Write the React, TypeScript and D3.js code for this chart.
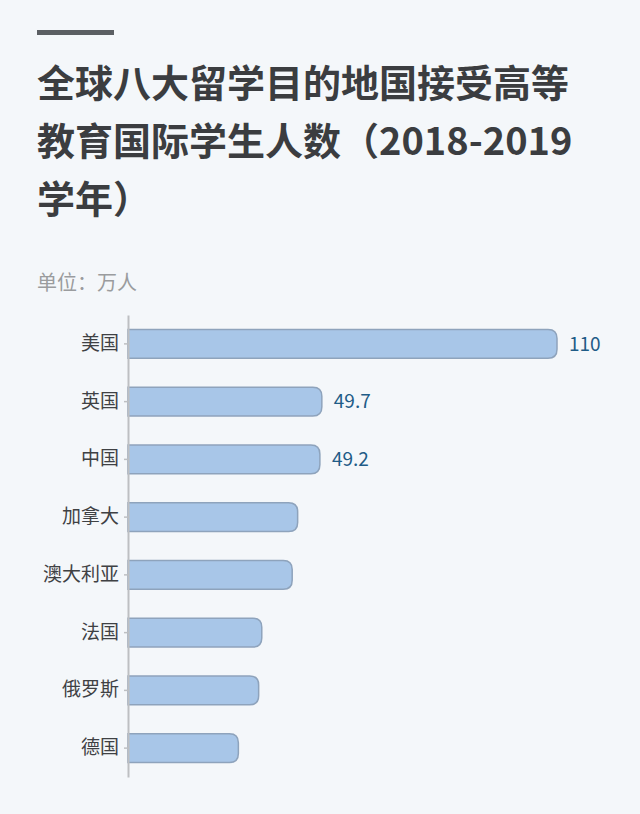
import React, { useEffect, useRef } from "react";
import * as d3 from "d3";

const titleLines = ["全球八大留学目的地国接受高等", "教育国际学生人数（2018-2019", "学年）"];
const unitLabel = "单位：万人";
const countries = ["美国", "英国", "中国", "加拿大", "澳大利亚", "法国", "俄罗斯", "德国"];
const students = [110, 49.7, 49.2, 43.5, 42.1, 34.3, 33.5, 28.3];
// only the top three bars carry a value label
const labelled = [true, true, true, false, false, false, false, false];

const width = 640;
const height = 814;
const margins = { top: 315, right: 83, bottom: 37, left: 128 };
const fontFamily = "'Noto Sans CJK SC', 'Noto Sans', sans-serif";

const App: React.FC = () => {
  const svgRef = useRef<SVGSVGElement | null>(null);

  useEffect(() => {
    if (!svgRef.current) return;
    const svg = d3.select(svgRef.current);
    svg.selectAll("*").remove();

    svg.append("rect").attr("width", width).attr("height", height).attr("fill", "#f4f7fa");

    // decorative rule above the title
    svg.append("rect").attr("x", 37).attr("y", 30).attr("width", 77).attr("height", 5).attr("fill", "#5b5f63");

    svg
      .append("g")
      .selectAll("text")
      .data(titleLines)
      .enter()
      .append("text")
      .attr("x", 37)
      .attr("y", (_, i) => 97 + i * 58)
      .attr("font-family", fontFamily)
      .attr("font-size", 38)
      .attr("font-weight", 700)
      .attr("fill", "#3b3d40")
      .text((d) => d);

    svg
      .append("text")
      .attr("x", 37)
      .attr("y", 290)
      .attr("font-family", fontFamily)
      .attr("font-size", 20)
      .attr("fill", "#9a9c9e")
      .text(unitLabel);

    const x = d3
      .scaleLinear()
      .domain([0, 110])
      .range([margins.left, width - margins.right]);
    const y = d3
      .scaleBand<string>()
      .domain(countries)
      .range([margins.top, height - margins.bottom])
      .paddingInner(0.5)
      .paddingOuter(0.25);

    const data = countries.map((c, i) => ({ name: c, value: students[i], label: labelled[i] }));
    const bw = y.bandwidth();
    const r = 9;

    // square on the axis side, rounded on the value side
    const barPath = (x0: number, x1: number, y0: number, h: number) => {
      const rr = Math.min(r, (x1 - x0) / 2, h / 2);
      return `M${x0},${y0}H${x1 - rr}Q${x1},${y0} ${x1},${y0 + rr}V${y0 + h - rr}Q${x1},${y0 + h} ${x1 - rr},${y0 + h}H${x0}Z`;
    };

    svg
      .append("g")
      .selectAll("path")
      .data(data)
      .enter()
      .append("path")
      .attr("d", (d) => barPath(x(0), x(d.value), y(d.name) || 0, bw))
      .attr("fill", "#a8c6e8")
      .attr("stroke", "#8ea3bc")
      .attr("stroke-width", 1.5);

    // Axis
    const axis = svg
      .append("g")
      .attr("transform", `translate(${margins.left},0)`)
      .call(d3.axisLeft(y).tickSize(4).tickSizeOuter(0).tickPadding(5));
    axis.select(".domain").attr("stroke", "#bdbfc2").attr("stroke-width", 2);
    axis.selectAll(".tick line").attr("stroke", "#bdbfc2").attr("stroke-width", 1.5);
    axis
      .selectAll(".tick text")
      .attr("font-family", fontFamily)
      .attr("font-size", 19)
      .attr("fill", "#3f4144");

    svg
      .append("g")
      .selectAll("text")
      .data(data.filter((d) => d.label))
      .enter()
      .append("text")
      .attr("x", (d) => x(d.value) + 12)
      .attr("y", (d) => (y(d.name) || 0) + bw / 2)
      .attr("dy", "0.35em")
      .attr("font-family", fontFamily)
      .attr("font-size", 19)
      .attr("fill", "#1f5c87")
      .text((d) => String(d.value));
  }, []);

  return (
    <div style={{ position: "fixed", left: 0, top: 0, width, height }}>
      <svg ref={svgRef} width={width} height={height} style={{ display: "block" }} />
    </div>
  );
};

export default App;
